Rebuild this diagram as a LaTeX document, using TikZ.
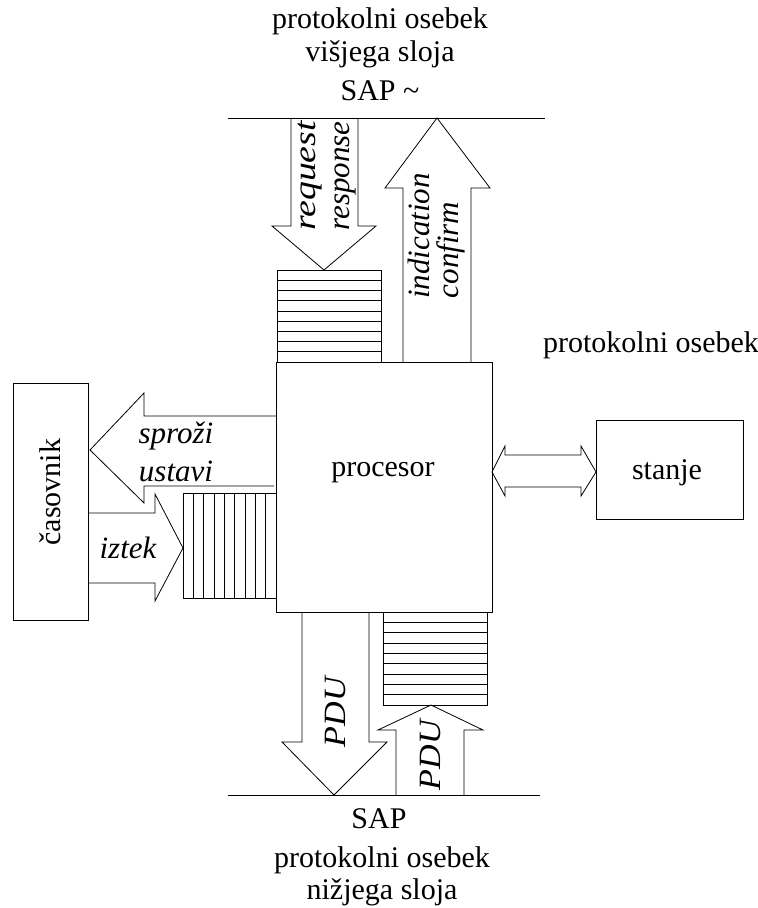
\documentclass[tikz,border=0pt]{standalone}
\usepackage{fontspec}
\setmainfont{Liberation Serif}
\begin{document}
\begin{tikzpicture}[x=1pt,y=-1pt,
  box/.style={draw, line width=0.9pt, inner sep=0pt, anchor=north west},
  lbl/.style={font=\fontsize{30}{34}\selectfont, inner sep=0pt},
  ilbl/.style={font=\fontsize{31}{34}\selectfont\itshape, inner sep=0pt},
  blk/.style={draw, line width=0.8pt, line join=miter},
  qline/.style={line width=0.6pt},
  sapline/.style={line width=0.9pt}]
\useasboundingbox (0,0) rectangle (758,908);

% boxes
\node[box, minimum width=216pt, minimum height=250pt] (proc) at (276,362) {};
\node[box, minimum width=75pt, minimum height=237pt] (clock) at (13,383) {};
\node[box, minimum width=147pt, minimum height=99pt] (state) at (596,420) {};

% queues
\node[box, minimum width=104pt, minimum height=92pt] (qtop) at (277,270) {};
\foreach \i in {1,...,8} \draw[qline] (277,{270+\i*92/9}) -- (381,{270+\i*92/9});
\node[box, minimum width=93pt, minimum height=105pt] (qleft) at (183,493) {};
\foreach \i in {1,...,8} \draw[qline] ({183+\i*93/9},493) -- ({183+\i*93/9},598);
\node[box, minimum width=104pt, minimum height=93pt] (qbot) at (383,612) {};
\foreach \i in {1,...,8} \draw[qline] (383,{612+\i*93/9}) -- (487,{612+\i*93/9});

% SAP lines
\coordinate (topL) at (228,118); \coordinate (topR) at (545,118);
\coordinate (botL) at (228,795); \coordinate (botR) at (540,795);
\draw[sapline] (topL) -- (topR);
\draw[sapline] (botL) -- (botR);

% block arrows
\draw[blk] (291,118) -- (291,226) -- (272,226) -- (324,270) -- (376,226) -- (358,226) -- (358,118);
\draw[blk] (403,362) -- (403,188) -- (385,188) -- (437,118) -- (490,188) -- (471,188) -- (471,362);
\draw[blk] (276,416) -- (144,416) -- (144,393) -- (90,450) -- (144,503) -- (144,486) -- (274,486);
\draw[blk] (88,513) -- (155,513) -- (155,494) -- (183,548) -- (155,601) -- (155,583) -- (88,583);
\draw[blk] (302,612) -- (302,742) -- (282,742) -- (334,795) -- (387,742) -- (369,742) -- (369,612);
\draw[blk] (396,795) -- (396,730) -- (378,730) -- (431,705) -- (483,730) -- (464,730) -- (464,795);
\draw[blk] (492,472) -- (505,446) -- (505,455) -- (581,455) -- (581,446) -- (596,472)
  -- (581,496) -- (581,487) -- (505,487) -- (505,496) -- cycle;

% labels
\node[lbl, anchor=base] (t1) at (380,28) {protokolni osebek};
\node[lbl, anchor=base] (t2) at (380,61) {višjega sloja};
\node[lbl, anchor=base] (t3) at (380,100) {SAP \char"7E};
\node[lbl, anchor=base] (b1) at (379,828) {SAP};
\node[lbl, anchor=base] (b2) at (382,867) {protokolni osebek};
\node[lbl, anchor=base] (b3) at (382,899) {nižjega sloja};
\node[lbl, anchor=base] (r1) at (651,352) {protokolni osebek};
\node[lbl] (plbl) at (383,473) {procesor};
\node[lbl] (slbl) at (667,473) {stanje};
\node[lbl, rotate=90] (clbl) at (50,492) {časovnik};

\node[ilbl, rotate=90] (req) at (310,176) {\scalebox{1.22}[1]{request}};
\node[ilbl, rotate=90] (resp) at (345,176) {response};
\node[ilbl, rotate=90] (ind) at (419,236) {indication};
\node[ilbl, rotate=90] (conf) at (451,250) {confirm};
\node[ilbl] (spr) at (176,436) {sproži};
\node[ilbl] (ust) at (176,471) {ustavi};
\node[ilbl] (izt) at (128,548) {iztek};
\node[ilbl, rotate=90] (pdu1) at (335,712) {\scalebox{1.1}[1]{PDU}};
\node[ilbl, rotate=90] (pdu2) at (430,755) {\scalebox{1.1}[1]{PDU}};
\end{tikzpicture}
\end{document}
